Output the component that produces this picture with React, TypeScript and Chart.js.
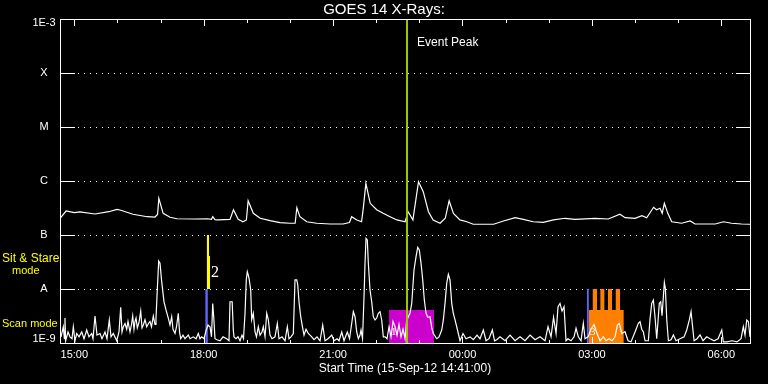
import React, { useEffect, useRef } from 'react';
import { Chart, registerables } from 'chart.js';

Chart.register(...registerables);

// ---- axis ranges (hours of 15-Sep-12; values > 24 are 16-Sep) ----
const startHour = 14.6685;
const endHour = 30.6655;
const fluxMin = 1e-9;
const fluxMax = 1e-3;
const eventPeakHour = 22.714;

const levelValues = [1e-9, 1e-8, 1e-7, 1e-6, 1e-5, 1e-4, 1e-3];
const levelLabels = ['1E-9', 'A', 'B', 'C', 'M', 'X', '1E-3'];
const hourTicks = [15, 16, 17, 18, 19, 20, 21, 22, 23, 24, 25, 26, 27, 28, 29, 30];
const majorTickHours = [15, 18, 21, 24, 27, 30];
const majorTickLabels = ['15:00', '18:00', '21:00', '00:00', '03:00', '06:00'];

// ---- GOES long channel (1-8 A) ----
const longTimes = [
  14.67, 14.81, 15.0, 15.13, 15.48, 15.8, 15.99, 16.06, 16.36, 16.69,
  16.87, 16.93, 16.96, 17.06, 17.22, 17.38, 17.8, 18.08, 18.18, 18.21,
  18.26, 18.33, 18.61, 18.69, 18.8, 18.91, 18.99, 19.03, 19.15, 19.31,
  19.54, 19.77, 20.0, 20.12, 20.16, 20.23, 20.39, 20.62, 20.93, 21.23,
  21.38, 21.43, 21.55, 21.66, 21.7, 21.76, 21.86, 22.01, 22.16, 22.32,
  22.48, 22.67, 22.74, 22.85, 22.98, 23.09, 23.21, 23.32, 23.48, 23.6,
  23.69, 23.79, 23.94, 24.1, 24.25, 24.72, 24.95, 25.22, 25.41, 25.64,
  25.87, 26.11, 26.38, 26.61, 27.07, 27.38, 27.65, 27.77, 28.0, 28.16,
  28.27, 28.43, 28.5, 28.58, 28.63, 28.68, 28.76, 28.85, 29.08, 29.28,
  29.39, 29.86, 30.05, 30.24, 30.47, 30.67,
];
const longFlux = [
  2.04e-7, 2.78e-7, 2.6e-7, 2.67e-7, 2.45e-7, 2.7e-7, 2.99e-7, 2.9e-7, 2.42e-7, 2.18e-7,
  2.15e-7, 2.4e-7, 4.78e-7, 2.52e-7, 2.13e-7, 2.0e-7, 1.98e-7, 2.0e-7, 1.95e-7, 2.18e-7,
  1.92e-7, 1.9e-7, 1.95e-7, 2.93e-7, 1.95e-7, 1.76e-7, 1.9e-7, 4.3e-7, 2.52e-7, 2.04e-7,
  1.84e-7, 1.69e-7, 1.65e-7, 1.65e-7, 3.2e-7, 2.18e-7, 1.76e-7, 1.65e-7, 1.6e-7, 1.6e-7,
  1.7e-7, 2.18e-7, 1.9e-7, 1.76e-7, 3.12e-7, 9.06e-7, 3.86e-7, 2.93e-7, 2.52e-7, 2.18e-7,
  1.9e-7, 1.76e-7, 2.7e-7, 1.9e-7, 9.71e-7, 6.34e-7, 2.7e-7, 1.9e-7, 1.65e-7, 2.04e-7,
  4.3e-7, 2.52e-7, 1.9e-7, 1.76e-7, 1.58e-7, 1.58e-7, 1.82e-7, 2.09e-7, 1.95e-7, 1.76e-7,
  1.72e-7, 1.9e-7, 2.04e-7, 1.95e-7, 2.04e-7, 1.98e-7, 2.42e-7, 2.09e-7, 2.04e-7, 2.28e-7,
  2.09e-7, 3.26e-7, 2.93e-7, 3.12e-7, 2.52e-7, 3.86e-7, 2.52e-7, 1.76e-7, 1.65e-7, 1.82e-7,
  1.6e-7, 1.6e-7, 1.76e-7, 1.65e-7, 1.6e-7, 1.58e-7,
];

// ---- GOES short channel (0.5-4 A) ----
const shortTimes = [
  14.692, 14.745, 14.77, 14.784, 14.8, 14.854, 14.9, 14.947, 14.977, 15.016,
  15.056, 15.109, 15.172, 15.225, 15.288, 15.341, 15.403, 15.434, 15.48, 15.526,
  15.596, 15.642, 15.712, 15.758, 15.812, 15.851, 15.904, 15.983, 16.036, 16.076,
  16.106, 16.136, 16.176, 16.215, 16.245, 16.291, 16.326, 16.354, 16.384, 16.407,
  16.431, 16.461, 16.5, 16.54, 16.57, 16.6, 16.639, 16.679, 16.72, 16.755,
  16.79, 16.832, 16.871, 16.894, 16.924, 16.957, 16.987, 17.026, 17.08, 17.126,
  17.179, 17.219, 17.258, 17.288, 17.335, 17.37, 17.411, 17.44, 17.467, 17.52,
  17.567, 17.643, 17.683, 17.759, 17.822, 17.875, 17.914, 17.954, 18.007, 18.054,
  18.1, 18.146, 18.181, 18.209, 18.234, 18.262, 18.309, 18.378, 18.448, 18.533,
  18.587, 18.61, 18.66, 18.687, 18.703, 18.749, 18.795, 18.842, 18.888, 18.923,
  18.958, 18.988, 19.011, 19.034, 19.057, 19.09, 19.113, 19.15, 19.19, 19.224,
  19.266, 19.306, 19.352, 19.382, 19.422, 19.461, 19.498, 19.537, 19.584, 19.653,
  19.707, 19.746, 19.816, 19.885, 19.939, 19.978, 20.024, 20.078, 20.117, 20.157,
  20.18, 20.21, 20.249, 20.296, 20.326, 20.372, 20.425, 20.465, 20.504, 20.558,
  20.627, 20.697, 20.759, 20.813, 20.882, 20.968, 21.021, 21.091, 21.137, 21.2,
  21.253, 21.33, 21.381, 21.432, 21.469, 21.508, 21.548, 21.585, 21.624, 21.647,
  21.682, 21.717, 21.74, 21.763, 21.793, 21.817, 21.856, 21.895, 21.932, 21.972,
  22.011, 22.048, 22.088, 22.127, 22.164, 22.204, 22.25, 22.297, 22.343, 22.389,
  22.436, 22.482, 22.528, 22.575, 22.621, 22.668, 22.702, 22.744, 22.783, 22.823,
  22.876, 22.923, 22.962, 22.999, 23.039, 23.078, 23.115, 23.155, 23.194, 23.247,
  23.287, 23.324, 23.402, 23.456, 23.518, 23.556, 23.595, 23.634, 23.672, 23.711,
  23.75, 23.787, 23.827, 23.866, 23.903, 23.943, 24.012, 24.082, 24.175, 24.251,
  24.337, 24.406, 24.483, 24.546, 24.615, 24.692, 24.743, 24.794, 24.87, 24.986,
  25.102, 25.218, 25.334, 25.45, 25.566, 25.682, 25.797, 25.913, 25.983, 26.053,
  26.111, 26.169, 26.215, 26.261, 26.307, 26.354, 26.4, 26.446, 26.516, 26.586,
  26.632, 26.685, 26.748, 26.801, 26.841, 26.911, 26.98, 27.05, 27.119, 27.189,
  27.265, 27.328, 27.397, 27.467, 27.537, 27.59, 27.636, 27.692, 27.768, 27.838,
  27.907, 28.0, 28.077, 28.116, 28.155, 28.193, 28.232, 28.309, 28.348, 28.387,
  28.425, 28.464, 28.503, 28.563, 28.596, 28.626, 28.657, 28.68, 28.703, 28.736,
  28.773, 28.835, 28.889, 28.951, 29.044, 29.137, 29.199, 29.259, 29.299, 29.329,
  29.369, 29.438, 29.508, 29.577, 29.663, 29.74, 29.833, 29.925, 30.011, 30.047,
  30.133, 30.249, 30.365, 30.458, 30.511, 30.55, 30.59, 30.627, 30.666,
];
const shortFlux = [
  1.3e-9, 2.0e-9, 1.2e-9, 2.9e-9, 1.1e-9, 1.6e-9, 1.3e-9, 1.2e-9, 2.0e-9, 1.1e-9,
  1.5e-9, 1.3e-9, 1.6e-9, 1.2e-9, 1.74e-9, 1.3e-9, 1.5e-9, 1.2e-9, 3.16e-9, 1.4e-9,
  1.5e-9, 1.2e-9, 1.6e-9, 1.2e-9, 2.67e-9, 1.3e-9, 1.5e-9, 1.1e-9, 1.6e-9, 4.58e-9,
  1.6e-9, 2.0e-9, 2.3e-9, 1.8e-9, 2.5e-9, 1.6e-9, 2.2e-9, 3.16e-9, 1.8e-9, 2.5e-9,
  2.9e-9, 1.9e-9, 2.4e-9, 3.9e-9, 1.9e-9, 2.15e-9, 2.7e-9, 2.0e-9, 2.3e-9, 2.5e-9,
  2.0e-9, 3.16e-9, 2.2e-9, 2.9e-9, 9.6e-9, 3.3e-8, 3.0e-8, 1.37e-8, 5.8e-9, 4.1e-9,
  2.9e-9, 2.15e-9, 3.07e-9, 1.8e-9, 1.5e-9, 2.0e-9, 3.55e-9, 1.6e-9, 1.2e-9, 1.4e-9,
  1.2e-9, 1.4e-9, 1.2e-9, 1.3e-9, 1.2e-9, 1.5e-9, 1.2e-9, 1.3e-9, 1.2e-9, 1.7e-9,
  2.15e-9, 2.0e-9, 1.3e-9, 5.4e-9, 2.9e-9, 1.2e-9, 1.15e-9, 1.1e-9, 1.3e-9, 1.2e-9,
  1.1e-9, 5.8e-9, 5.8e-9, 1.7e-9, 1.3e-9, 1.2e-9, 1.3e-9, 1.1e-9, 1.4e-9, 1.2e-9,
  3.55e-9, 1.5e-8, 2.09e-8, 1.8e-8, 1.47e-8, 9.6e-9, 2.7e-9, 3.55e-9, 1.6e-9, 1.3e-9,
  2.0e-9, 1.4e-9, 1.6e-9, 2.0e-9, 1.3e-9, 3.55e-9, 2.7e-9, 1.4e-9, 1.2e-9, 1.3e-9,
  2.3e-9, 1.2e-9, 1.3e-9, 1.1e-9, 2.0e-9, 1.2e-9, 1.3e-9, 1.5e-9, 1.47e-8, 1.47e-8,
  1.2e-8, 5.8e-9, 3.07e-9, 1.87e-9, 1.4e-9, 1.8e-9, 1.5e-9, 1.4e-9, 1.3e-9, 1.15e-9,
  1.3e-9, 1.1e-9, 2.15e-9, 1.1e-9, 1.2e-9, 1.4e-9, 1.1e-9, 1.2e-9, 1.1e-9, 1.6e-9,
  1.1e-9, 1.6e-9, 1.2e-9, 2.32e-9, 3.8e-9, 3.07e-9, 1.6e-9, 1.2e-9, 1.4e-9, 1.74e-9,
  1.2e-9, 7.2e-9, 3.0e-8, 8.69e-8, 8.1e-8, 3.0e-8, 9.6e-9, 5.8e-9, 3.07e-9, 2.67e-9,
  2.9e-9, 3.55e-9, 3.8e-9, 2.67e-9, 1.3e-9, 1.3e-9, 1.2e-9, 2.0e-9, 1.3e-9, 2.5e-9,
  2.0e-9, 1.4e-9, 2.2e-9, 1.3e-9, 1.8e-9, 1.2e-9, 2.5e-9, 3.07e-9, 3.55e-9, 5.4e-9,
  2.25e-8, 3.97e-8, 5.92e-8, 5.3e-8, 2.99e-8, 1.47e-8, 6.25e-9, 3.55e-9, 3.0e-9, 3.07e-9,
  1.9e-9, 1.5e-9, 1.2e-9, 1.3e-9, 1.74e-9, 2.67e-9, 5.43e-9, 1.28e-8, 1.87e-8, 1.47e-8,
  5.43e-9, 3.55e-9, 2.67e-9, 2.0e-9, 1.5e-9, 1.1e-9, 1.5e-9, 1.2e-9, 1.3e-9, 1.15e-9,
  1.4e-9, 1.2e-9, 1.74e-9, 1.1e-9, 1.2e-9, 1.74e-9, 1.1e-9, 1.15e-9, 1.3e-9, 1.1e-9,
  1.4e-9, 1.1e-9, 1.3e-9, 1.1e-9, 1.4e-9, 1.15e-9, 1.3e-9, 1.1e-9, 2.0e-9, 1.3e-9,
  3.0e-9, 1.5e-9, 4.7e-9, 5.4e-9, 3.9e-9, 4.7e-9, 1.1e-9, 1.2e-9, 1.1e-9, 1.3e-9,
  1.87e-9, 1.3e-9, 1.1e-9, 2.32e-9, 1.2e-9, 1.3e-9, 1.8e-9, 2.2e-9, 1.5e-9, 1.1e-9,
  1.3e-9, 1.1e-9, 1.2e-9, 1.1e-9, 1.3e-9, 2.15e-9, 2.3e-9, 1.5e-9, 1.62e-9, 1.1e-9,
  1.05e-9, 1.6e-9, 2.32e-9, 2.48e-9, 1.8e-9, 1.6e-9, 1.1e-9, 1.1e-9, 2.8e-9, 5.43e-9,
  6.25e-9, 3.0e-9, 1.2e-9, 5.43e-9, 5.8e-9, 3.2e-9, 7.2e-9, 1.33e-8, 1.03e-8, 2.67e-9,
  1.1e-9, 1.15e-9, 1.41e-9, 1.1e-9, 1.2e-9, 1.3e-9, 1.74e-9, 2.67e-9, 3.8e-9, 2.2e-9,
  1.1e-9, 1.2e-9, 1.41e-9, 1.1e-9, 1.3e-9, 1.2e-9, 1.1e-9, 1.2e-9, 1.74e-9, 1.05e-9,
  1.05e-9, 1.1e-9, 1.05e-9, 1.2e-9, 2.0e-9, 1.4e-9, 2.67e-9, 2.5e-9, 1.3e-9,
];

// ---- observing-mode blocks (stepped: each level holds until the next time) ----
const stare1Times = [18.035, 18.097];
const stare1Levels = [1e-8, 1e-8];
const sitStareTimes = [18.07, 18.123, 18.146];
const sitStareLevels = [1e-7, 4.1e-8, 4.1e-8];
const scan1Times = [22.297, 23.341];
const scan1Levels = [4.08e-9, 4.08e-9];
const stare2Times = [26.88, 26.93];
const stare2Levels = [1e-8, 1e-8];
const scan2Times = [26.93, 27.02, 27.12, 27.196, 27.289, 27.374, 27.467, 27.553, 27.653, 27.74];
const scan2Levels = [4.08e-9, 1e-8, 4.08e-9, 1e-8, 4.08e-9, 1e-8, 4.08e-9, 1e-8, 4.08e-9, 4.08e-9];

const toPoints = (ts: number[], vs: number[]) => ts.map((t, i) => ({ x: t, y: vs[i] }));

const FONT = '"Liberation Sans", Arial, sans-serif';

const overlayPlugin = {
  id: 'goesOverlay',
  beforeDatasetsDraw(chart: any) {
    const { ctx, chartArea: a, scales } = chart;
    const ys = scales.y;
    ctx.save();
    ctx.strokeStyle = '#ffffff';
    ctx.lineWidth = 1;
    ctx.setLineDash([1, 5]);
    levelValues.forEach((v, i) => {
      if (i === 0 || i === levelValues.length - 1) return;
      const py = Math.round(ys.getPixelForValue(v)) + 0.5;
      ctx.beginPath();
      ctx.moveTo(a.left + 18, py);
      ctx.lineTo(a.right - 15, py);
      ctx.stroke();
    });
    ctx.restore();
  },
  afterDatasetsDraw(chart: any) {
    const { ctx, chartArea: a, scales } = chart;
    const xs = scales.x;
    const ys = scales.y;
    ctx.save();
    ctx.strokeStyle = '#ffffff';
    ctx.lineWidth = 1;
    // frame
    ctx.strokeRect(a.left + 0.5, a.top + 0.5, a.right - a.left, a.bottom - a.top);
    // y level ticks (inside, both sides)
    levelValues.forEach((v) => {
      const py = Math.round(ys.getPixelForValue(v)) + 0.5;
      ctx.beginPath();
      ctx.moveTo(a.left, py);
      ctx.lineTo(a.left + 15, py);
      ctx.moveTo(a.right - 14, py);
      ctx.lineTo(a.right + 1, py);
      ctx.stroke();
    });
    // x hour ticks (top and bottom)
    hourTicks.forEach((h) => {
      const px = Math.round(xs.getPixelForValue(h)) + 0.5;
      const len = majorTickHours.includes(h) ? 7 : 4;
      ctx.beginPath();
      ctx.moveTo(px, a.top);
      ctx.lineTo(px, a.top + len);
      ctx.moveTo(px, a.bottom + 1);
      ctx.lineTo(px, a.bottom + 1 - len);
      ctx.stroke();
    });

    ctx.fillStyle = '#ffffff';
    // y labels
    ctx.font = `11px ${FONT}`;
    ctx.textAlign = 'center';
    ctx.textBaseline = 'middle';
    levelValues.forEach((v, i) => {
      let py = ys.getPixelForValue(v);
      if (i === levelValues.length - 1) py += 4;
      if (i === 0) py -= 4;
      ctx.fillText(levelLabels[i], 44, py);
    });
    // x labels
    majorTickHours.forEach((h, i) => {
      ctx.fillText(majorTickLabels[i], xs.getPixelForValue(h), a.bottom + 12);
    });
    ctx.font = `12px ${FONT}`;
    ctx.fillText('Start Time (15-Sep-12 14:41:00)', (a.left + a.right) / 2, a.bottom + 26);
    // title
    ctx.font = `15px ${FONT}`;
    ctx.fillText('GOES 14 X-Rays:', chart.width / 2, 10);
    // event peak
    ctx.font = `12px ${FONT}`;
    ctx.textAlign = 'left';
    ctx.fillText('Event Peak', xs.getPixelForValue(eventPeakHour) + 10, a.top + 24);
    // mode numbers
    ctx.font = `16px "Liberation Serif", serif`;
    ctx.fillText('2', xs.getPixelForValue(sitStareTimes[sitStareTimes.length - 1]) + 1, ys.getPixelForValue(2.0e-8));
    ctx.font = `11px "Liberation Serif", serif`;
    ctx.fillText('1', xs.getPixelForValue(scan1Times[0]) + 2, ys.getPixelForValue(1.6e-9));
    ctx.fillText('3', xs.getPixelForValue(stare2Times[1]) + 1, ys.getPixelForValue(1.6e-9));
    // mode labels (left margin)
    ctx.fillStyle = '#ffff00';
    ctx.font = `12px ${FONT}`;
    ctx.textAlign = 'left';
    ctx.fillText('Sit & Stare', 2, 259);
    ctx.font = `11px ${FONT}`;
    ctx.fillText('mode', 12, 271);
    ctx.fillText('Scan mode', 2, 324);
    ctx.restore();
  },
};

export default function App() {
  const ref = useRef<HTMLCanvasElement>(null);
  useEffect(() => {
    document.body.style.background = '#000';
    const canvas = ref.current;
    if (!canvas) return;
    const modeSet = (times: number[], levels: number[], color: string, base: number, order: number) => ({
      data: toPoints(times, levels),
      stepped: true,
      borderWidth: 0,
      borderColor: 'rgba(0,0,0,0)',
      backgroundColor: color,
      fill: { value: base },
      pointRadius: 0,
      order,
    });
    const chart = new Chart(canvas, {
      type: 'line',
      data: {
        datasets: [
          {
            data: [
              { x: eventPeakHour, y: fluxMin },
              { x: eventPeakHour, y: fluxMax },
            ],
            borderColor: '#a0c800',
            borderWidth: 2,
            pointRadius: 0,
            fill: false,
            order: 0,
          },
          {
            data: toPoints(longTimes, longFlux),
            borderColor: '#ffffff',
            borderWidth: 1.2,
            pointRadius: 0,
            fill: false,
            order: 1,
          },
          {
            data: toPoints(shortTimes, shortFlux),
            borderColor: '#ffffff',
            borderWidth: 1.2,
            pointRadius: 0,
            fill: false,
            order: 2,
          },
          modeSet(stare1Times, stare1Levels, '#6464ff', fluxMin, 5),
          modeSet(sitStareTimes, sitStareLevels, '#ffff00', 1e-8, 4),
          modeSet(scan1Times, scan1Levels, '#cc00cc', fluxMin, 6),
          modeSet(scan2Times, scan2Levels, '#ff8000', fluxMin, 7),
          modeSet(stare2Times, stare2Levels, '#6464ff', fluxMin, 3),
        ] as any,
      },
      options: {
        animation: false,
        responsive: false,
        devicePixelRatio: 1,
        layout: { padding: { left: 60, top: 19, right: 18, bottom: 41 } },
        plugins: { legend: { display: false }, tooltip: { enabled: false } },
        elements: { line: { tension: 0 } },
        scales: {
          x: { type: 'linear', min: startHour, max: endHour, display: false },
          y: { type: 'logarithmic', min: fluxMin, max: fluxMax, display: false },
        },
      } as any,
      plugins: [overlayPlugin],
    });
    return () => chart.destroy();
  }, []);
  return (
    <div style={{ position: 'absolute', left: 0, top: 0, width: 768, height: 384, background: '#000' }}>
      <canvas ref={ref} width={768} height={384} style={{ display: 'block' }} />
    </div>
  );
}
